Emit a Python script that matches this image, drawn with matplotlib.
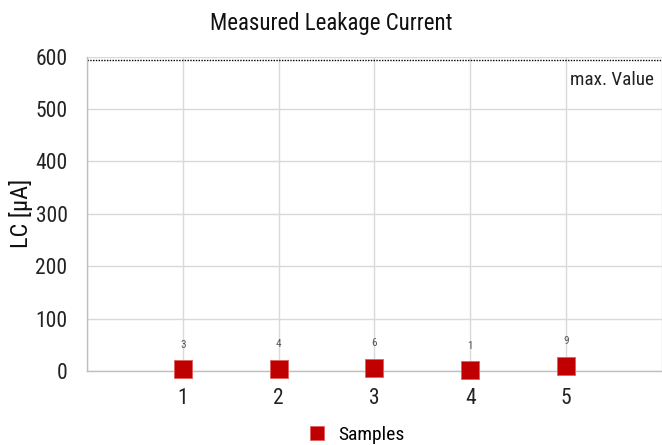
import matplotlib
matplotlib.use("Agg")
import matplotlib.pyplot as plt
from matplotlib import font_manager

samples = [1, 2, 3, 4, 5]
lc_values = [3, 4, 6, 1, 9]
max_value = 593
y_ticks = [0, 100, 200, 300, 400, 500, 600]

names = {f.name for f in font_manager.fontManager.ttflist}
fams = [n for n in ['Roboto Condensed', 'Liberation Sans Narrow', 'Arial Narrow'] if n in names]
plt.rcParams['font.family'] = fams + ['Roboto', 'DejaVu Sans']

red = '#c00000'

fig = plt.figure(figsize=(6.62, 4.45), dpi=100)
ax = fig.add_axes([0.1314, 0.1663, 0.8686, 0.7065])

ax.plot(samples, lc_values, linestyle='none', marker='s', markersize=12.5,
        markerfacecolor=red, markeredgecolor='#e06060', markeredgewidth=0.6,
        label='Samples', zorder=3, clip_on=False)
for x, v in zip(samples, lc_values):
    ax.text(x, v + 38, str(v), ha='center', va='bottom', fontsize=8, color='#555555')

ax.axhline(max_value, color='black', linestyle=(0, (1, 1)), linewidth=1.0, zorder=2)
ax.text(5.92, 555, 'max. Value', ha='right', va='center', fontsize=13.8, color='#222222')

ax.set_xlim(0, 6)
ax.set_ylim(0, 600)
ax.set_xticks(range(0, 7))
ax.set_xticklabels([''] + [str(s) for s in samples] + [''])
ax.set_yticks(y_ticks)
ax.tick_params(axis='both', length=0, labelsize=15.5, colors='#222222')
ax.tick_params(axis='x', pad=12)
ax.tick_params(axis='y', pad=14)
ax.grid(True, color='#d9d9d9', linewidth=1.0)
ax.set_axisbelow(True)
for s in ['top', 'right']:
    ax.spines[s].set_visible(False)
for s in ['left', 'bottom']:
    ax.spines[s].set_color('#bfbfbf')
    ax.spines[s].set_linewidth(1.0)

ax.set_ylabel('LC [µA]', fontsize=17.5, color='#111111', labelpad=2)
fig.suptitle('Measured Leakage Current', x=0.5, y=0.972, va='top',
             fontsize=16.5, color='#111111')

fig.legend(*ax.get_legend_handles_labels(), loc='center', bbox_to_anchor=(0.53, 0.022),
           frameon=False, fontsize=14, handletextpad=0.1, markerscale=0.85,
           borderpad=0, borderaxespad=0)

fig.savefig('out.png', dpi=100)
